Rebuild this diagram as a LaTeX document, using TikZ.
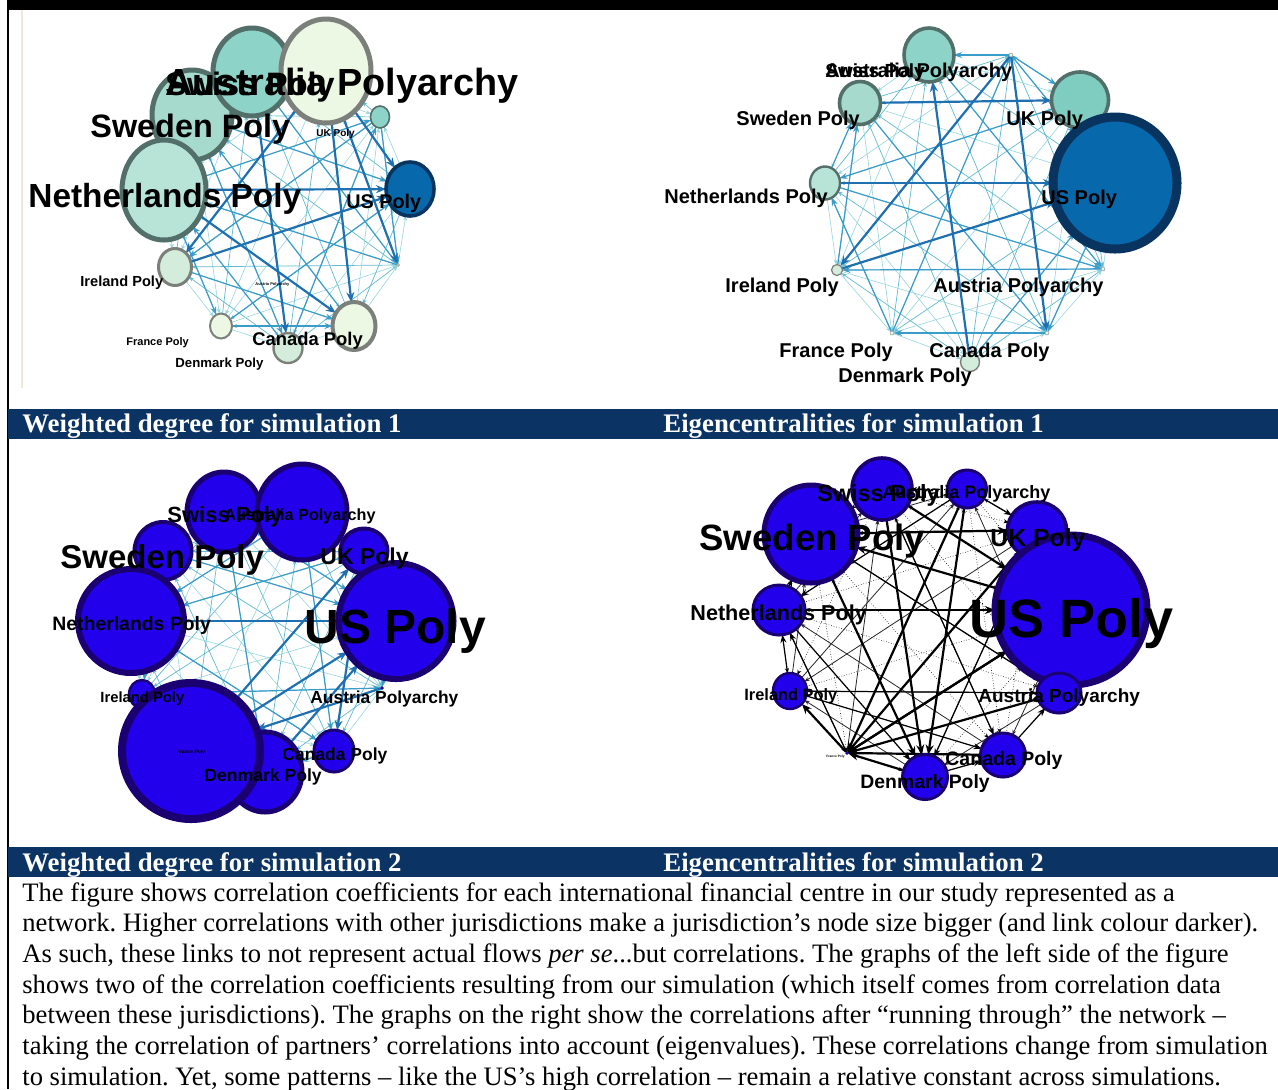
\documentclass[tikz,border=0pt]{standalone}
\usepackage{fontspec}
\setmainfont{Liberation Serif}
\newfontfamily\lblfont{Liberation Sans}
\usepackage{tikz}
\usetikzlibrary{shapes.geometric, arrows.meta, backgrounds}

\definecolor{barblue}{RGB}{11,51,99}
\definecolor{paleg}{RGB}{236,247,228}
\definecolor{greyrim}{RGB}{124,128,123}
\definecolor{tealA}{RGB}{141,211,199}
\definecolor{tealB}{RGB}{165,218,205}
\definecolor{tealC}{RGB}{184,227,215}
\definecolor{tealD}{RGB}{212,236,220}
\definecolor{tealE}{RGB}{127,205,192}
\definecolor{tealrim}{RGB}{82,112,105}
\definecolor{usblue}{RGB}{8,104,172}
\definecolor{usrim}{RGB}{8,52,95}
\definecolor{vblue}{RGB}{34,0,236}
\definecolor{vrim}{RGB}{26,0,112}
\definecolor{linkpale}{RGB}{150,214,222}
\definecolor{linkteal}{RGB}{95,186,208}
\definecolor{linkmid}{RGB}{58,156,200}
\definecolor{linkdeep}{RGB}{30,112,176}
\definecolor{seam}{RGB}{238,232,218}

\begin{document}
\begin{tikzpicture}[
  x=0.5pt, y=-0.5pt,
  pnode/.style 2 args={ellipse, inner sep=0pt, outer sep=0pt, minimum width=#1pt, minimum height=#2pt},
  lbl/.style={anchor=base west, inner sep=0pt, text=black, font=\lblfont\bfseries\fontsize{#1}{#1}\selectfont},
  title/.style={anchor=base west, inner sep=0pt, text=white, font=\bfseries\fontsize{13.4}{13.4}\selectfont},
  webA/.style={draw=linkpale, line width=0.3pt, -{Stealth[length=2.5pt, width=2pt]}},
  webB/.style={draw=linkteal, line width=0.35pt, -{Stealth[length=2.5pt, width=2pt]}},
  webK/.style={draw=black, line width=0.3pt, densely dotted, -{Stealth[length=2.5pt, width=2pt]}},
  webL/.style={draw=black!85, line width=0.4pt, -{Stealth[length=2.5pt, width=2pt]}},
  mid/.style={draw=linkmid, line width=0.6pt, -{Stealth[length=4pt, width=3pt]}},
  strong/.style={draw=linkdeep, line width=1.1pt, -{Stealth[length=5pt, width=4pt]}},
  midk/.style={draw=black, line width=0.6pt, -{Stealth[length=4pt, width=3pt]}},
  strongk/.style={draw=black, line width=1.1pt, -{Stealth[length=5pt, width=4pt]}}
]
\useasboundingbox (0,0) rectangle (1278,1089);
% frame
\fill[black] (7,0) rectangle (1278,10);
\fill[black] (7,10) rectangle (9,1089);
\draw[seam, line width=0.8pt] (22,10) -- (22,388);

% weighted degree, simulation 1
\node[pnode={40}{45}, fill=tealB, draw=tealrim, line width=2.5pt] (wa-swe) at (192,115) {};
\node[pnode={39}{44}, fill=tealA, draw=tealrim, line width=2.5pt] (wa-swi) at (252,72) {};
\node[pnode={45}{52}, fill=paleg, draw=greyrim, line width=2.5pt] (wa-aus) at (326,71) {};
\node[pnode={42}{50}, fill=tealC, draw=tealrim, line width=2.5pt] (wa-net) at (164,190) {};
\node[pnode={16.5}{18.5}, fill=tealD, draw=greyrim, line width=1.5pt] (wa-ire) at (175,267) {};
\node[pnode={11}{12.5}, fill=paleg, draw=greyrim, line width=1pt] (wa-fra) at (221,326) {};
\node[pnode={14.5}{15}, fill=tealD, draw=greyrim, line width=1.2pt] (wa-den) at (288,348) {};
\node[pnode={21.5}{24}, fill=paleg, draw=greyrim, line width=2pt] (wa-can) at (354,326) {};
\node[pnode={1.5}{1.5}, fill=paleg, draw=greyrim, line width=0.2pt] (wa-aut) at (398,265) {};
\node[pnode={24}{27}, fill=usblue, draw=usrim, line width=1.8pt] (wa-us) at (410,189) {};
\node[pnode={9.5}{11}, fill=tealA, draw=tealrim, line width=0.8pt] (wa-uk) at (380,117) {};
\node[lbl=18.9] (wa-aus-l) at (165,95) {Australia Polyarchy};
\node[lbl=16.2] (wa-swi-l) at (165,95) {Swiss Poly};
\node[lbl=16.2] (wa-swe-l) at (90,137) {Sweden Poly};
\node[lbl=16.7] (wa-net-l) at (28,207) {Netherlands Poly};
\node[lbl=5] (wa-uk-l) at (316,136) {UK Poly};
\node[lbl=9.9] (wa-us-l) at (346,208) {US Poly};
\node[lbl=7.3] (wa-ire-l) at (80,286) {Ireland Poly};
\node[lbl=2] (wa-aut-l) at (255,285) {Austria Polyarchy};
\node[lbl=5.5] (wa-fra-l) at (126,345) {France Poly};
\node[lbl=9.2] (wa-can-l) at (252,345) {Canada Poly};
\node[lbl=6.6] (wa-den-l) at (175,367) {Denmark Poly};

% eigencentralities, simulation 1
\node[pnode={2}{2}, fill=paleg, draw=greyrim, line width=0.2pt] (ea-aus) at (1011,55) {};
\node[pnode={25}{27}, fill=tealA, draw=tealrim, line width=1.8pt] (ea-swi) at (929,55) {};
\node[pnode={20.5}{21.5}, fill=tealB, draw=tealrim, line width=1.8pt] (ea-swe) at (860,103) {};
\node[pnode={28.5}{28}, fill=tealE, draw=tealrim, line width=1.8pt] (ea-uk) at (1080,100) {};
\node[pnode={62}{66}, fill=usblue, draw=usrim, line width=4.5pt] (ea-us) at (1115,183) {};
\node[pnode={15}{16.5}, fill=tealC, draw=tealrim, line width=1.2pt] (ea-net) at (825,183) {};
\node[pnode={5.5}{5.5}, fill=tealD, draw=greyrim, line width=0.6pt] (ea-ire) at (837,270) {};
\node[pnode={2}{2}, fill=paleg, draw=greyrim, line width=0.2pt] (ea-aut) at (1103,269) {};
\node[pnode={2}{2}, fill=paleg, draw=greyrim, line width=0.2pt] (ea-fra) at (892,333) {};
\node[pnode={2}{2}, fill=paleg, draw=greyrim, line width=0.2pt] (ea-can) at (1047,333) {};
\node[pnode={9.5}{9.5}, fill=tealD, draw=greyrim, line width=0.7pt] (ea-den) at (970,362) {};
\node[lbl=10] (ea-aus-l) at (825,77) {Australia Polyarchy};
\node[lbl=9.5] (ea-swi-l) at (825,77) {Swiss Poly};
\node[lbl=10] (ea-swe-l) at (736,125) {Sweden Poly};
\node[lbl=10] (ea-uk-l) at (1006,125) {UK Poly};
\node[lbl=10] (ea-us-l) at (1041,204) {US Poly};
\node[lbl=10] (ea-net-l) at (664,203) {Netherlands Poly};
\node[lbl=10] (ea-ire-l) at (725,292) {Ireland Poly};
\node[lbl=10] (ea-aut-l) at (933,292) {Austria Polyarchy};
\node[lbl=10] (ea-fra-l) at (779,357) {France Poly};
\node[lbl=10] (ea-can-l) at (929,357) {Canada Poly};
\node[lbl=10] (ea-den-l) at (838,382) {Denmark Poly};

% weighted degree, simulation 2
\node[pnode={37}{40}, fill=vblue, draw=vrim, line width=2.5pt] (wb-swi) at (224,512) {};
\node[pnode={45}{48}, fill=vblue, draw=vrim, line width=2.5pt] (wb-aus) at (302,512) {};
\node[pnode={28.5}{29}, fill=vblue, draw=vrim, line width=2pt] (wb-swe) at (163,551) {};
\node[pnode={53}{52}, fill=vblue, draw=vrim, line width=3pt] (wb-net) at (131,621) {};
\node[pnode={23.5}{22.5}, fill=vblue, draw=vrim, line width=2pt] (wb-uk) at (364,551) {};
\node[pnode={57.5}{58}, fill=vblue, draw=vrim, line width=3pt] (wb-us) at (396,621) {};
\node[pnode={13}{14}, fill=vblue, draw=vrim, line width=1.2pt] (wb-ire) at (142,694) {};
\node[pnode={37}{40}, fill=vblue, draw=vrim, line width=2.5pt] (wb-den) at (265,772) {};
\node[pnode={69}{68}, fill=vblue, draw=vrim, line width=4pt] (wb-fra) at (191,751) {};
\node[pnode={20}{21}, fill=vblue, draw=vrim, line width=1.5pt] (wb-can) at (334,751) {};
\node[pnode={1.5}{1.5}, fill=vblue, draw=vrim, line width=0.2pt] (wb-aut) at (382,688) {};
\node[lbl=11] (wb-swi-l) at (167,522) {Swiss Poly};
\node[lbl=8.1] (wb-aus-l) at (224,520) {Australia Polyarchy};
\node[lbl=16.5] (wb-swe-l) at (60,568) {Sweden Poly};
\node[lbl=11.5] (wb-uk-l) at (320,564) {UK Poly};
\node[lbl=9.7] (wb-net-l) at (52,630) {Netherlands Poly};
\node[lbl=24] (wb-us-l) at (304,643) {US Poly};
\node[lbl=7.4] (wb-ire-l) at (100,702) {Ireland Poly};
\node[lbl=8.7] (wb-aut-l) at (310,703) {Austria Polyarchy};
\node[lbl=2.5, anchor=center] (wb-fra-l) at (191,752) {France Poly};
\node[lbl=8.75] (wb-can-l) at (282,760) {Canada Poly};
\node[lbl=8.8] (wb-den-l) at (204,781) {Denmark Poly};

% eigencentralities, simulation 2
\node[pnode={30}{31}, fill=vblue, draw=vrim, line width=1.8pt] (eb-swi) at (882,489) {};
\node[pnode={19.5}{19}, fill=vblue, draw=vrim, line width=1.5pt] (eb-aus) at (967,489) {};
\node[pnode={47}{49}, fill=vblue, draw=vrim, line width=2.5pt] (eb-swe) at (811,534) {};
\node[pnode={29.5}{28}, fill=vblue, draw=vrim, line width=1.8pt] (eb-uk) at (1037,530) {};
\node[pnode={76}{75}, fill=vblue, draw=vrim, line width=3.5pt] (eb-us) at (1071,610) {};
\node[pnode={26}{25}, fill=vblue, draw=vrim, line width=1.5pt] (eb-net) at (779,610) {};
\node[pnode={17}{18}, fill=vblue, draw=vrim, line width=1.2pt] (eb-ire) at (790,691) {};
\node[pnode={22}{20}, fill=vblue, draw=vrim, line width=1.5pt] (eb-aut) at (1059,693) {};
\node[pnode={22.5}{22}, fill=vblue, draw=vrim, line width=1.5pt] (eb-can) at (1003,755) {};
\node[pnode={22.5}{22.5}, fill=vblue, draw=vrim, line width=1.5pt] (eb-den) at (925,777) {};
\node[pnode={1.5}{1.5}, fill=vblue, draw=vrim, line width=0.2pt] (eb-fra) at (847,753) {};
\node[lbl=11.7] (eb-swi-l) at (817,501) {Swiss Poly};
\node[lbl=9] (eb-aus-l) at (882,498) {Australia Polyarchy};
\node[lbl=18.3] (eb-swe-l) at (699,550) {Sweden Poly};
\node[lbl=12.4] (eb-uk-l) at (990,546) {UK Poly};
\node[lbl=27] (eb-us-l) at (969,637) {US Poly};
\node[lbl=10.8] (eb-net-l) at (690,620) {Netherlands Poly};
\node[lbl=8.2] (eb-ire-l) at (744,700) {Ireland Poly};
\node[lbl=9.5] (eb-aut-l) at (978,702) {Austria Polyarchy};
\node[lbl=1.6] (eb-fra-l) at (826,757) {France Poly};
\node[lbl=9.75] (eb-can-l) at (945,765) {Canada Poly};
\node[lbl=9.7] (eb-den-l) at (860,788) {Denmark Poly};

% links, behind the nodes
\begin{pgfonlayer}{background}
\fill[white] (0,0) rectangle (1278,1089);
\foreach \pn/\lo/\hi in {wa/webA/webB, ea/webA/webB, wb/webA/webB, eb/webK/webL} {
  \foreach \src [count=\ka] in {aus,swi,swe,net,ire,fra,den,can,aut,us,uk} {
    \foreach \dst [count=\kb] in {aus,swi,swe,net,ire,fra,den,can,aut,us,uk} {
      \ifnum\ka<\kb
        \ifodd\numexpr\ka+\kb\relax \draw[\lo] (\pn-\src) -- (\pn-\dst);
        \else \draw[\hi] (\pn-\dst) -- (\pn-\src); \fi
      \fi
    }
  }
}
\foreach \src/\dst in {swe/den, net/uk, uk/aut, net/fra, fra/us, den/uk, can/swe, aut/net, uk/ire, ire/can, swi/aut, swe/us, fra/can, den/net}
  \draw[mid] (wa-\src) -- (wa-\dst);
\foreach \src/\dst in {net/us, ire/us, aus/ire, aus/aut, aus/can, aus/us, swi/den, net/can}
  \draw[strong] (wa-\src) -- (wa-\dst);
\foreach \src/\dst in {aus/swi, aus/uk, aus/us, net/swe, swi/aut, uk/net, swe/can, ire/swe, us/can, fra/net, den/us, fra/aus, aut/ire, can/fra, net/aut}
  \draw[mid] (ea-\src) -- (ea-\dst);
\foreach \src/\dst in {net/us, ire/us, aus/ire, den/swi, swe/uk, aus/can}
  \draw[strong] (ea-\src) -- (ea-\dst);
\foreach \src/\dst in {swi/den, uk/net, swe/ire, us/aut, aus/can, net/can, swe/us, aus/net, can/den, ire/aut, swi/us}
  \draw[mid] (wb-\src) -- (wb-\dst);
\foreach \src/\dst in {net/us, fra/us, den/us, aut/fra, uk/can, fra/uk}
  \draw[strong] (wb-\src) -- (wb-\dst);
\foreach \src/\dst in {ire/aut, aus/uk, net/swe, ire/net, can/aut, den/can, fra/net, swi/can, swe/aut, uk/den, aus/net, ire/can, net/den}
  \draw[midk] (eb-\src) -- (eb-\dst);
\foreach \src/\dst in {swe/uk, net/us, can/fra, den/fra, us/fra, aut/fra, uk/fra, aus/fra, fra/ire, swi/den, aus/den, swe/den, us/swe, swi/us, fra/us}
  \draw[strongk] (eb-\src) -- (eb-\dst);
\end{pgfonlayer}

% title bars
\fill[barblue] (8,409) rectangle (1278,439);
\fill[barblue] (8,847) rectangle (1278,877);
\node[title] (t-wa) at (22,432) {Weighted degree for simulation 1};
\node[title] (t-ea) at (663,432) {Eigencentralities for simulation 1};
\node[title] (t-wb) at (22,871) {Weighted degree for simulation 2};
\node[title] (t-eb) at (663,871) {Eigencentralities for simulation 2};

% caption
\node[anchor=north west, inner sep=0pt, align=left, font=\frenchspacing\fontsize{13.3}{15.35}\selectfont] (caption) at (22,882) {%
The figure shows correlation coefficients for each international financial centre in our study represented as a\\
network. Higher correlations with other jurisdictions make a jurisdiction’s node size bigger (and link colour darker).\\
As such, these links to not represent actual flows \textit{per se}...but correlations. The graphs of the left side of the figure\\
shows two of the correlation coefficients resulting from our simulation (which itself comes from correlation data\\
between these jurisdictions). The graphs on the right show the correlations after “running through” the network --\\
taking the correlation of partners’ correlations into account (eigenvalues). These correlations change from simulation\\
to simulation. Yet, some patterns -- like the US’s high correlation -- remain a relative constant across simulations.};
\end{tikzpicture}
\end{document}
